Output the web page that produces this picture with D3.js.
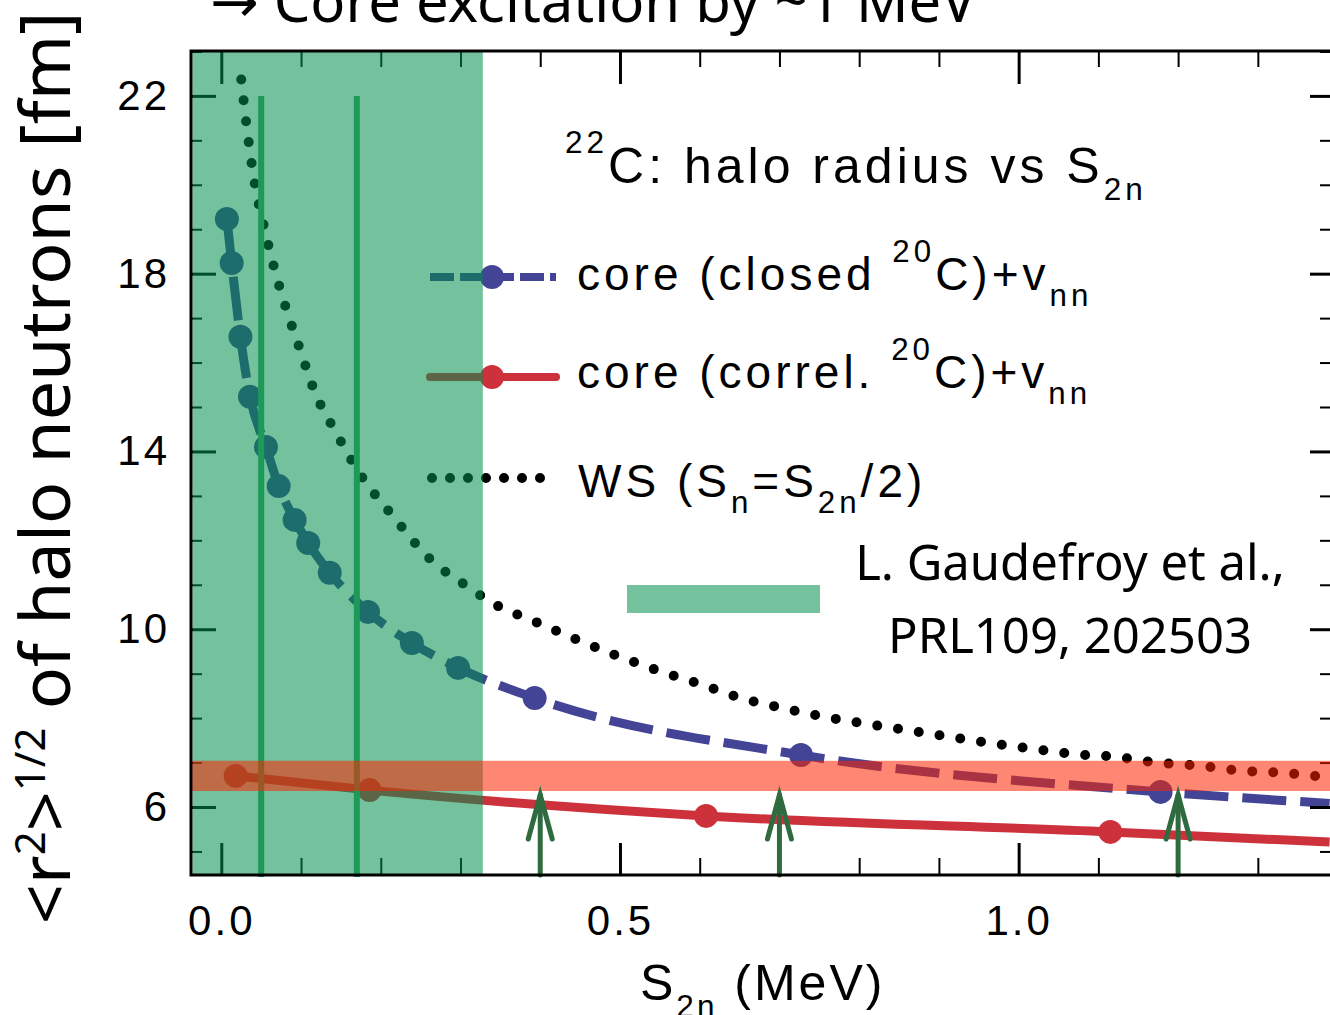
<!DOCTYPE html>
<html>
<head>
<meta charset="utf-8">
<script src="https://cdn.jsdelivr.net/npm/d3@7"></script>
<style>
  body { margin: 0; background: #fff; overflow: hidden; }
  svg { display: block; }
</style>
</head>
<body>
<script>
// values (S2n in MeV, radius in fm)
const closedS2n = [0.007, 0.013, 0.024, 0.036, 0.056, 0.072, 0.092, 0.109, 0.136, 0.184, 0.239, 0.297, 0.393, 0.727, 1.178];
const closedR   = [19.23, 18.24, 16.58, 15.23, 14.10, 13.22, 12.46, 11.94, 11.27, 10.39, 9.69, 9.13, 8.45, 7.17, 6.34];
const closedEnd = [1.39, 6.08];

const correlS2n = [0.018, 0.186, 0.608, 1.115];
const correlR   = [6.70, 6.38, 5.80, 5.44];
const correlEnd = [1.39, 5.21];

const wsS2n = [0.025, 0.031, 0.042, 0.053, 0.066, 0.081, 0.099, 0.117, 0.144, 0.174, 0.216, 0.260, 0.313, 0.339,
               0.391, 0.444, 0.494, 0.546, 0.600, 0.652, 0.703, 0.756, 0.809, 0.860, 0.913, 0.964, 1.017, 1.069,
               1.121, 1.173, 1.225, 1.277, 1.329, 1.382];
const wsR   = [22.37, 21.44, 20.02, 19.10, 18.15, 17.23, 16.28, 15.35, 14.42, 13.49, 12.53, 11.61, 10.91, 10.60,
               10.19, 9.78, 9.42, 9.08, 8.77, 8.45, 8.23, 8.03, 7.87, 7.73, 7.58, 7.44, 7.31, 7.19,
               7.13, 7.00, 6.93, 6.82, 6.77, 6.68];

const xMajorTicks = [0, 0.5, 1.0];
const xMinorTicks = [0.1, 0.2, 0.3, 0.4, 0.6, 0.7, 0.8, 0.9, 1.1, 1.2, 1.3];
const yMajorTicks = [6, 10, 14, 18, 22];
const yMinorTicks = [5, 7, 8, 9, 11, 12, 13, 15, 16, 17, 19, 20, 21, 23];

const greenBandS2n = [-0.038, 0.328];   // shaded S2n range
const redBandR = [6.36, 7.04];          // shaded radius range
const gaudefroyLines = [0.05, 0.17];    // vertical lines
const gaudefroyTop = 22.0;
const arrowS2n = [0.40, 0.70, 1.20];
const arrowTip = 6.27;

const W = 1330, H = 1015;
const x = d3.scaleLinear().domain([-0.038, 1.393]).range([191, 1332]);
const y = d3.scaleLinear().domain([4.47, 23.01]).range([875, 51]);

const blue = "#444496", red = "#cd323c", greenFill = "rgb(0,144,77)", redFill = "rgb(253,37,0)";

const svg = d3.select("body").append("svg")
  .attr("width", W).attr("height", H)
  .style("font-family", "'Liberation Sans', Arial, sans-serif");

svg.append("defs").append("clipPath").attr("id", "plot")
  .append("rect").attr("x", x(-0.038)).attr("y", y(23.01))
  .attr("width", x(1.393) - x(-0.038)).attr("height", y(4.47) - y(23.01));

const line = d3.line().x(d => x(d[0])).y(d => y(d[1])).curve(d3.curveMonotoneX);
const plot = svg.append("g").attr("clip-path", "url(#plot)");

// WS dotted curve
plot.append("path")
  .datum(d3.zip(wsS2n, wsR))
  .attr("d", line).attr("fill", "none").attr("stroke", "#000")
  .attr("stroke-width", 10).attr("stroke-linecap", "round")
  .attr("stroke-dasharray", "0,21");

// closed core: dashed blue
const closedPts = d3.zip(closedS2n, closedR);
plot.append("path")
  .datum(closedPts.concat([closedEnd]))
  .attr("d", line).attr("fill", "none").attr("stroke", blue)
  .attr("stroke-width", 9).attr("stroke-dasharray", "44,14");
plot.selectAll("circle.closed").data(closedPts).enter().append("circle")
  .attr("class", "closed").attr("cx", d => x(d[0])).attr("cy", d => y(d[1]))
  .attr("r", 12).attr("fill", blue);

// correlated core: solid red
const correlPts = d3.zip(correlS2n, correlR);
plot.append("path")
  .datum(correlPts.concat([correlEnd]))
  .attr("d", line).attr("fill", "none").attr("stroke", red)
  .attr("stroke-width", 9);
plot.selectAll("circle.correl").data(correlPts).enter().append("circle")
  .attr("class", "correl").attr("cx", d => x(d[0])).attr("cy", d => y(d[1]))
  .attr("r", 12).attr("fill", red);

// legend samples (under the green shading)
const lg = svg.append("g");
lg.append("line").attr("x1", 430).attr("x2", 556).attr("y1", 277).attr("y2", 277)
  .attr("stroke", blue).attr("stroke-width", 8).attr("stroke-dasharray", "24,6");
lg.append("circle").attr("cx", 492).attr("cy", 277).attr("r", 12).attr("fill", blue);
lg.append("line").attr("x1", 430).attr("x2", 556).attr("y1", 377).attr("y2", 377)
  .attr("stroke", red).attr("stroke-width", 8).attr("stroke-linecap", "round");
lg.append("circle").attr("cx", 492).attr("cy", 377).attr("r", 12).attr("fill", red);
lg.append("line").attr("x1", 432).attr("x2", 541).attr("y1", 478).attr("y2", 478)
  .attr("stroke", "#000").attr("stroke-width", 10).attr("stroke-linecap", "round")
  .attr("stroke-dasharray", "0,18");

// ticks
function ticks(axis, tr, vals, size, w) {
  const g = svg.append("g").attr("transform", tr)
    .call(axis.tickValues(vals).tickSize(-size).tickFormat(""));
  g.select(".domain").remove();
  g.selectAll("line").attr("stroke", "#000").attr("stroke-width", w);
  return g;
}
ticks(d3.axisBottom(x), `translate(0,${y(4.47)})`, xMinorTicks, 17, 2);
ticks(d3.axisTop(x), `translate(0,${y(23.01)})`, xMinorTicks, 16, 2);
ticks(d3.axisTop(x), `translate(0,${y(23.01)})`, xMajorTicks, 33, 3);
ticks(d3.axisLeft(y), `translate(${x(-0.038)},0)`, yMinorTicks, 11, 2);
ticks(d3.axisRight(y), `translate(${x(1.393)},0)`, yMinorTicks, 12, 2);
ticks(d3.axisRight(y), `translate(${x(1.393)},0)`, yMajorTicks, 22, 3);

const xAx = svg.append("g").attr("transform", `translate(0,${y(4.47)})`)
  .call(d3.axisBottom(x).tickValues(xMajorTicks).tickSize(-32).tickPadding(30).tickFormat(d3.format(".1f")));
const yAx = svg.append("g").attr("transform", `translate(${x(-0.038)},0)`)
  .call(d3.axisLeft(y).tickValues(yMajorTicks).tickSize(-25).tickPadding(21).tickFormat(d3.format("d")));
[xAx, yAx].forEach(g => {
  g.select(".domain").remove();
  g.selectAll("line").attr("stroke", "#000").attr("stroke-width", 3);
  g.selectAll("text").attr("font-size", 42).attr("fill", "#000")
    .attr("font-family", "'Liberation Sans', Arial, sans-serif").style("letter-spacing", "3px");
});

// shading: green S2n band over plot content
svg.append("rect")
  .attr("x", x(greenBandS2n[0]) + 1.5).attr("y", y(23.01))
  .attr("width", x(greenBandS2n[1]) - x(greenBandS2n[0]) - 1.5).attr("height", y(4.47) - y(23.01))
  .attr("fill", greenFill).attr("fill-opacity", 0.55);

// vertical lines
svg.selectAll("line.vl").data(gaudefroyLines).enter().append("line")
  .attr("class", "vl")
  .attr("x1", d => x(d)).attr("x2", d => x(d))
  .attr("y1", y(gaudefroyTop)).attr("y2", y(4.47) + 2)
  .attr("stroke", "#1e9a58").attr("stroke-width", 6);

// red radius band
svg.append("rect")
  .attr("x", x(-0.038)).attr("y", y(redBandR[1]))
  .attr("width", x(1.393) - x(-0.038)).attr("height", y(redBandR[0]) - y(redBandR[1]))
  .attr("fill", redFill).attr("fill-opacity", 0.55);

// arrows
const ag = svg.append("g").attr("stroke", "#2f6b3f").attr("stroke-width", 5)
  .attr("fill", "none").attr("stroke-linecap", "round");
arrowS2n.forEach(s => {
  const ax = x(s), ty = y(arrowTip);
  ag.append("line").attr("x1", ax).attr("x2", ax).attr("y1", y(4.47)).attr("y2", ty);
  ag.append("path").attr("d", `M${ax - 12},${ty + 44}L${ax},${ty}L${ax + 12},${ty + 44}`);
});

// frame
svg.append("path")
  .attr("d", `M${x(1.393)},${y(23.01)}H${x(-0.038)}V${y(4.47)}H${x(1.393)}`)
  .attr("fill", "none").attr("stroke", "#000").attr("stroke-width", 3);

// rich text helper for super/subscripts
function rich(px, py, fs, parts, opts = {}) {
  const t = svg.append("text").attr("x", px).attr("y", py)
    .attr("font-size", fs).attr("fill", "#000")
    .style("letter-spacing", (opts.ls || 0) + "px");
  let off = 0;
  parts.forEach(([s, k]) => {
    const target = k === "sup" ? -0.6 * fs : k === "sub" ? 0.34 * fs : 0;
    t.append("tspan").attr("dy", target - off)
      .attr("font-size", k ? fs * (opts.small || 0.63) : fs).text(s);
    off = target;
  });
  return t;
}

rich(565, 183, 50, [["22", "sup"], ["C: halo radius vs S", ""], ["2n", "sub"]], { ls: 4 });
rich(577, 290, 46, [["core (closed ", ""], ["20", "sup"], ["C)+v", ""], ["nn", "sub"]], { ls: 4, small: 0.68 });
rich(577, 388, 46, [["core (correl. ", ""], ["20", "sup"], ["C)+v", ""], ["nn", "sub"]], { ls: 4, small: 0.68 });
rich(578, 497, 46, [["WS (S", ""], ["n", "sub"], ["=S", ""], ["2n", "sub"], ["/2)", ""]], { ls: 4, small: 0.68 });

// citation with its swatch
svg.append("rect").attr("x", 627).attr("y", 585).attr("width", 193).attr("height", 28)
  .attr("fill", greenFill).attr("fill-opacity", 0.55);
["L. Gaudefroy et al.,", "PRL109, 202503"].forEach((s, i) => {
  svg.append("text").attr("x", 1070).attr("y", 580 + i * 73)
    .attr("text-anchor", "middle").attr("font-size", 49)
    .attr("font-family", "'Noto Sans', sans-serif").text(s);
});

// axis titles
rich(640, 1000, 50, [["S", ""], ["2n", "sub"], [" (MeV)", ""]], { ls: 3 });

const yl = svg.append("text")
  .attr("transform", "translate(70,468) rotate(-90)")
  .attr("text-anchor", "middle").attr("font-size", 70)
  .attr("font-family", "'Noto Sans', sans-serif");
yl.append("tspan").text("<r");
yl.append("tspan").attr("dy", -25).attr("font-size", 42).text("2");
yl.append("tspan").attr("dy", 25).text(">");
yl.append("tspan").attr("dy", -25).attr("font-size", 42).text("1/2");
yl.append("tspan").attr("dy", 25).text(" of halo neutrons [fm]");

svg.append("text").attr("x", 210).attr("y", 22)
  .attr("font-size", 58).attr("font-family", "'Noto Sans', 'DejaVu Sans', sans-serif")
  .text("→ Core excitation by ~1 MeV");
</script>
</body>
</html>
